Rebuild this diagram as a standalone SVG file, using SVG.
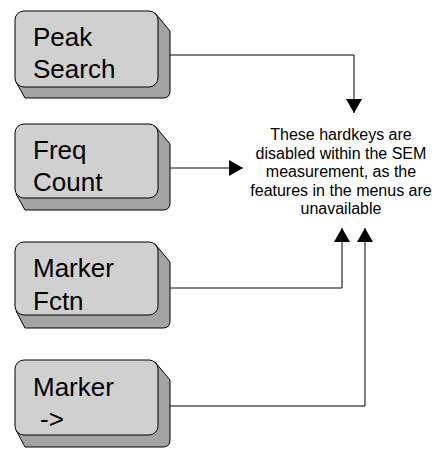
<svg xmlns="http://www.w3.org/2000/svg" width="444" height="449" viewBox="0 0 444 449">
<defs>
<style>
.shadow{fill:#a3a3a3;stroke:#000;stroke-width:1}
.face{fill:#d0d0d0;stroke:#000;stroke-width:1}
.key{font-family:"Liberation Sans",Arial,sans-serif;font-size:26px;fill:#000}
.note{font-family:"Liberation Sans",Arial,sans-serif;font-size:16px;fill:#000;text-anchor:middle}
.conn{fill:none;stroke:#000;stroke-width:1}
</style>
<marker id="arr" markerUnits="userSpaceOnUse" markerWidth="16" markerHeight="16" viewBox="0 0 14 16" refX="14" refY="8" orient="auto">
<path d="M0,0 L14,8 L0,16 Z" fill="#000"/>
</marker>
</defs>
<rect width="444" height="449" fill="#fff"/>
<g id="key-peak-search">
<path class="shadow" d="M155,13 L170,31 L170,91 Q170,98 163,98 L25,98 L16,82 Z"/>
<rect class="face" x="15" y="11" width="143" height="76" rx="9"/>
<text class="key" x="33" y="46">Peak</text>
<text class="key" x="33" y="78">Search</text>
</g>
<g id="key-freq-count">
<path class="shadow" d="M155,126 L170,144 L170,203 Q170,210 163,210 L25,210 L16,194 Z"/>
<rect class="face" x="15" y="124" width="143" height="74" rx="9"/>
<text class="key" x="33" y="159">Freq</text>
<text class="key" x="33" y="191">Count</text>
</g>
<g id="key-marker-fctn">
<path class="shadow" d="M155,244 L170,262 L170,321 Q170,328 163,328 L25,328 L16,311 Z"/>
<rect class="face" x="15" y="242" width="143" height="73" rx="9"/>
<text class="key" x="33" y="277">Marker</text>
<text class="key" x="33" y="310">Fctn</text>
</g>
<g id="key-marker-arrow">
<path class="shadow" d="M155,362 L170,380 L170,440 Q170,447 163,447 L25,447 L16,430 Z"/>
<rect class="face" x="15" y="360" width="143" height="75" rx="9"/>
<text class="key" x="33" y="396">Marker</text>
<text class="key" x="40" y="428">-&gt;</text>
</g>
<g id="note">
<text class="note" x="341" y="140">These hardkeys are</text>
<text class="note" x="341" y="159">disabled within the SEM</text>
<text class="note" x="341" y="177">measurement, as the</text>
<text class="note" x="341" y="196">features in the menus are</text>
<text class="note" x="341" y="214">unavailable</text>
</g>
<g id="connectors">
<path class="conn" d="M170,55 H354 V113" marker-end="url(#arr)"/>
<path class="conn" d="M170,168 H243" marker-end="url(#arr)"/>
<path class="conn" d="M170,288 H342 V228" marker-end="url(#arr)"/>
<path class="conn" d="M170,406 H365 V228" marker-end="url(#arr)"/>
</g>
</svg>
